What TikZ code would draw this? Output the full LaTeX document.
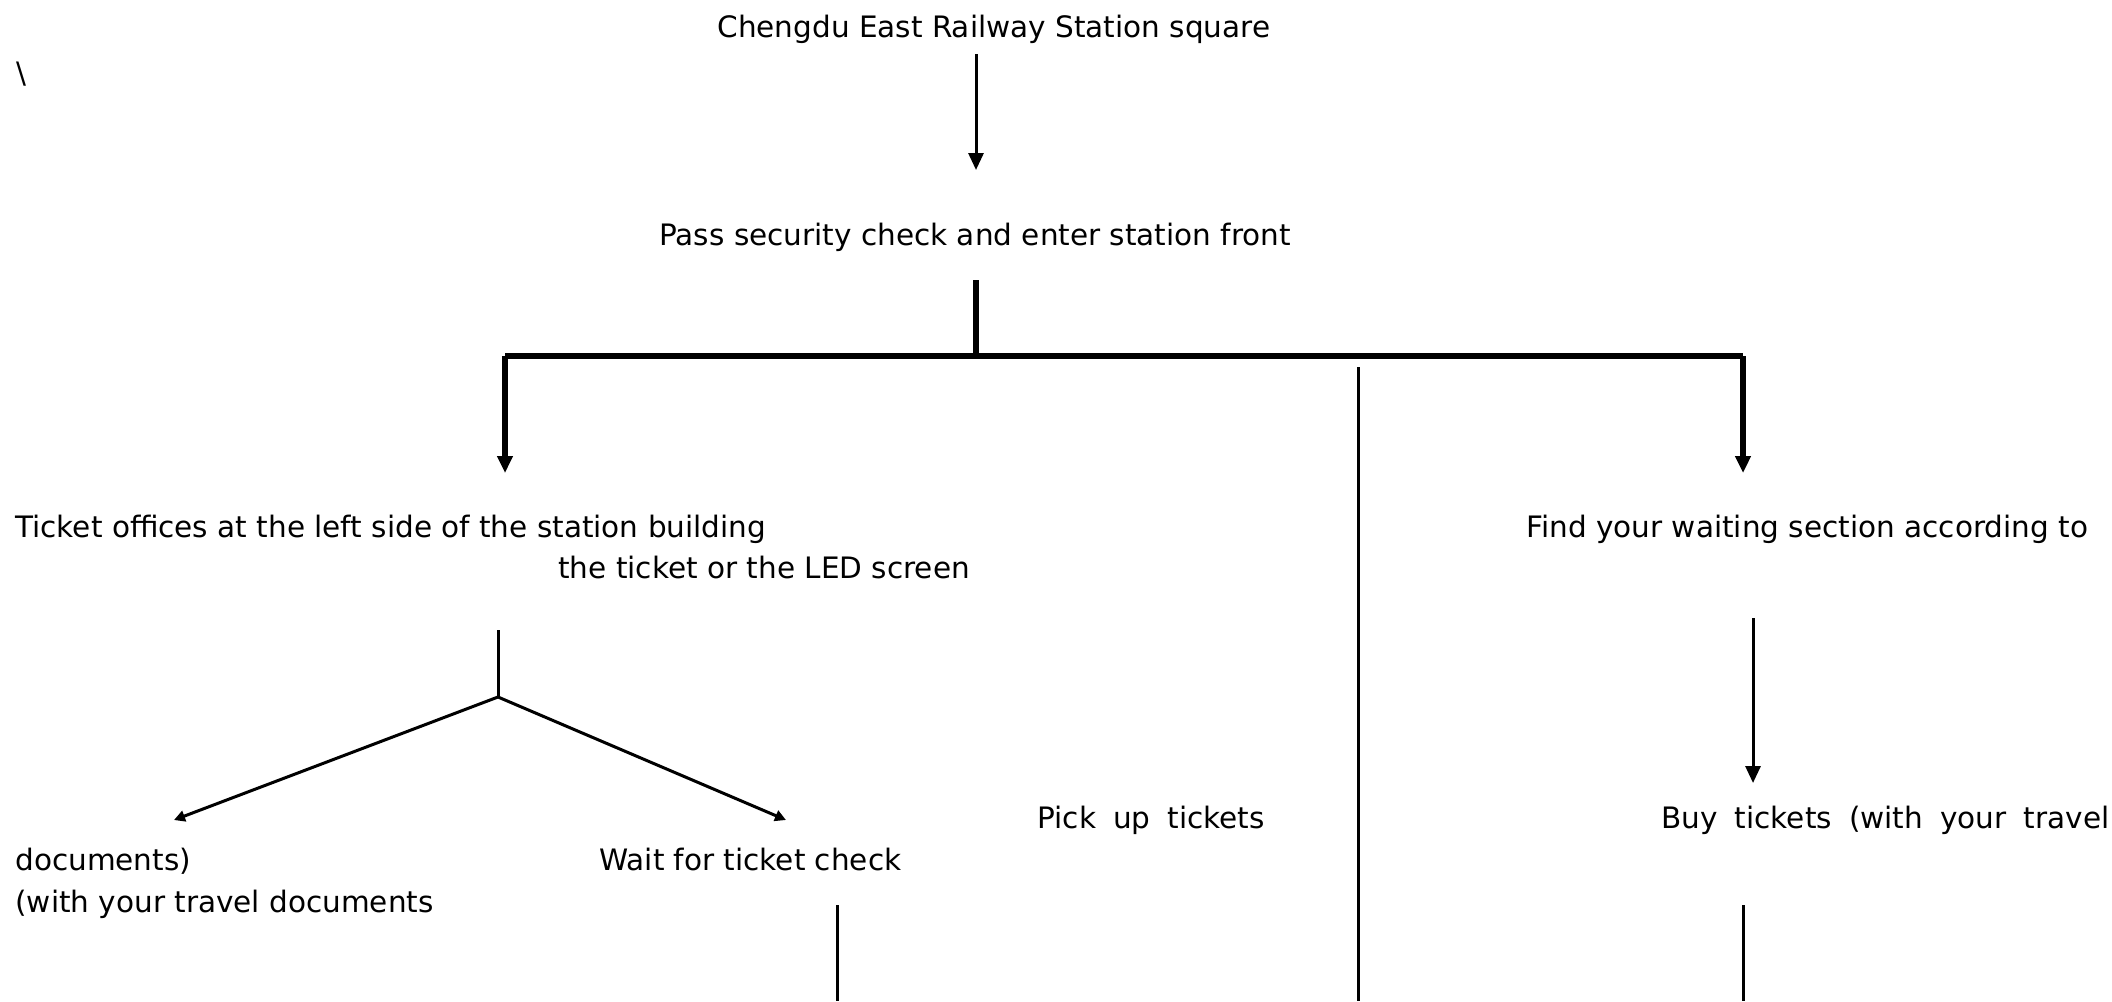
\documentclass[tikz,border=0pt]{standalone}
\usepackage{fontspec}
\setmainfont{DejaVu Sans}
\usetikzlibrary{arrows.meta}
\newcommand{\widesp}{\hspace{0.58em}}
\begin{document}
\begin{tikzpicture}[x=0.5pt,y=-0.5pt,
	txt/.style={anchor=base west,inner sep=0pt,font=\fontsize{14.75}{17}\selectfont},
	thinline/.style={line width=1.5pt},
	boldline/.style={line width=3pt},
	bigtip/.style={-{Triangle[width=7.5pt,length=8.5pt]}},
	smalltip/.style={-{Triangle[width=5.5pt,length=5.5pt]}}]
	\useasboundingbox (0,0) rectangle (2112,1001);

	% Texts
	\node[txt] (slash) at (16,83) {\textbackslash};
	\node[txt] (square) at (717,37) {Chengdu East Railway Station square};
	\node[txt] (security) at (659,245) {Pass security check and enter station front};
	\node[txt] (offices) at (15,537) {Ticket offices at the left side of the station building};
	\node[txt] (led) at (558,578) {the ticket or the LED screen};
	\node[txt] (section) at (1526,537) {Find your waiting section according to};
	\node[txt] (pickup) at (1037,828) {Pick\widesp up\widesp tickets};
	\node[txt] (buy) at (1661,828) {Buy\widesp tickets\widesp (with\widesp your\widesp travel};
	\node[txt] (docsa) at (15,870) {documents)};
	\node[txt] (wait) at (599,870) {Wait for ticket check};
	\node[txt] (docsb) at (15,912) {(with your travel documents};

	% Points of the connectors
	\coordinate (a1) at (976,54);
	\coordinate (a2) at (976,170);
	\coordinate (b1) at (976,280);
	\coordinate (b2) at (976,356);
	\coordinate (bl) at (505,356);
	\coordinate (br) at (1743,356);
	\coordinate (blt) at (505,473);
	\coordinate (brt) at (1743,473);
	\coordinate (m1) at (1358,367);
	\coordinate (m2) at (1358,1001);
	\coordinate (r1) at (1753,618);
	\coordinate (r2) at (1753,783);
	\coordinate (f1) at (498,630);
	\coordinate (f2) at (498,697);
	\coordinate (fl) at (174,820);
	\coordinate (fr) at (786,820);
	\coordinate (w1) at (837,905);
	\coordinate (w2) at (837,1001);
	\coordinate (u1) at (1743,905);
	\coordinate (u2) at (1743,1001);

	% Draw arrow from the square
	\draw[thinline,bigtip] (a1) -- (a2);

	% Draw the bold fork
	\draw[boldline] (b1) -- (b2);
	\draw[boldline] (bl) -- (br);
	\draw[boldline,bigtip] (bl) -- (blt);
	\draw[boldline,bigtip] (br) -- (brt);

	% Draw the plain lines
	\draw[thinline] (m1) -- (m2);
	\draw[thinline,bigtip] (r1) -- (r2);
	\draw[thinline] (f1) -- (f2);
	\draw[thinline,smalltip] (f2) -- (fl);
	\draw[thinline,smalltip] (f2) -- (fr);
	\draw[thinline] (w1) -- (w2);
	\draw[thinline] (u1) -- (u2);
\end{tikzpicture}
\end{document}
